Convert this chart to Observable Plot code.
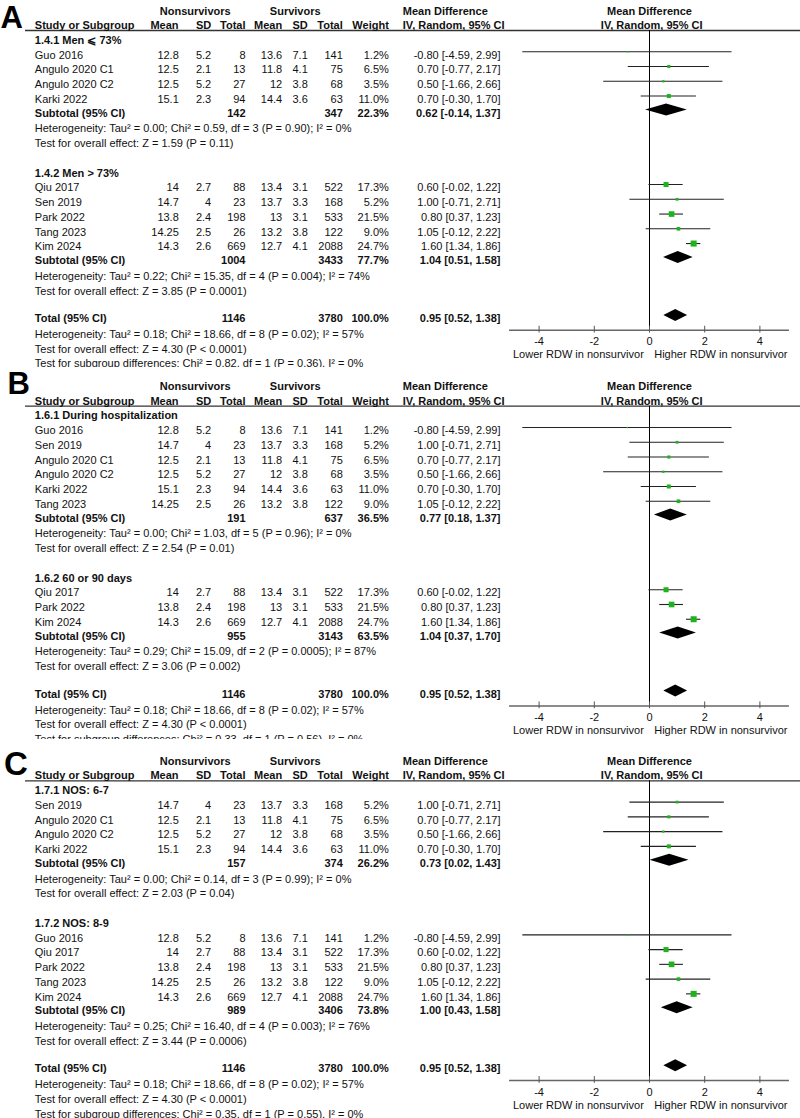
<!DOCTYPE html>
<html><head><meta charset="utf-8">
<script src="https://cdn.jsdelivr.net/npm/d3@7"></script>
<script src="https://cdn.jsdelivr.net/npm/@observablehq/plot@0.6"></script>
<style>
html,body{margin:0;padding:0;background:#fff;}
#fig{width:800px;}
.panel{display:flex;flex-direction:row;width:800px;overflow:hidden;}
.panel svg{display:block;flex:none;overflow:hidden;background:transparent;}
</style></head><body><div id="fig"></div>
<script>
// ---------- data ----------
const studyNames = ["Guo 2016","Qiu 2017","Sen 2019","Angulo 2020 C1","Angulo 2020 C2","Karki 2022","Park 2022","Tang 2023","Kim 2024"];
const nonMean  = [12.8, 14, 14.7, 12.5, 12.5, 15.1, 13.8, 14.25, 14.3];
const nonSD    = [5.2, 2.7, 4, 2.1, 5.2, 2.3, 2.4, 2.5, 2.6];
const nonTotal = [8, 88, 23, 13, 27, 94, 198, 26, 669];
const surMean  = [13.6, 13.4, 13.7, 11.8, 12, 14.4, 13, 13.2, 12.7];
const surSD    = [7.1, 3.1, 3.3, 4.1, 3.8, 3.6, 3.1, 3.8, 4.1];
const surTotal = [141, 522, 168, 75, 68, 63, 533, 122, 2088];
const weight   = [1.2, 17.3, 5.2, 6.5, 3.5, 11.0, 21.5, 9.0, 24.7];
const md       = [-0.80, 0.60, 1.00, 0.70, 0.50, 0.70, 0.80, 1.05, 1.60];
const ciLow    = [-4.59, -0.02, -0.71, -0.77, -1.66, -0.30, 0.37, -0.12, 1.34];
const ciHigh   = [2.99, 1.22, 2.71, 2.17, 2.66, 1.70, 1.23, 2.22, 1.86];

const panelLetters = ["A","B","C"];
const subgroupLabels = [
  ["1.4.1 Men \u2A7D 73%", "1.4.2 Men > 73%"],
  ["1.6.1 During hospitalization", "1.6.2 60 or 90 days"],
  ["1.7.1 NOS: 6-7", "1.7.2 NOS: 8-9"]
];
const subgroupStudies = [
  [["Guo 2016","Angulo 2020 C1","Angulo 2020 C2","Karki 2022"], ["Qiu 2017","Sen 2019","Park 2022","Tang 2023","Kim 2024"]],
  [["Guo 2016","Sen 2019","Angulo 2020 C1","Angulo 2020 C2","Karki 2022","Tang 2023"], ["Qiu 2017","Park 2022","Kim 2024"]],
  [["Sen 2019","Angulo 2020 C1","Angulo 2020 C2","Karki 2022"], ["Guo 2016","Qiu 2017","Park 2022","Tang 2023","Kim 2024"]]
];
const subNonTotal = [[142, 1004], [191, 955], [157, 989]];
const subSurTotal = [[347, 3433], [637, 3143], [374, 3406]];
const subWeight   = [[22.3, 77.7], [36.5, 63.5], [26.2, 73.8]];
const subMD       = [[0.62, 1.04], [0.77, 1.04], [0.73, 1.00]];
const subLow      = [[-0.14, 0.51], [0.18, 0.37], [0.02, 0.43]];
const subHigh     = [[1.37, 1.58], [1.37, 1.70], [1.43, 1.58]];
const subHet = [
  ["Heterogeneity: Tau\u00B2 = 0.00; Chi\u00B2 = 0.59, df = 3 (P = 0.90); I\u00B2 = 0%",
   "Heterogeneity: Tau\u00B2 = 0.22; Chi\u00B2 = 15.35, df = 4 (P = 0.004); I\u00B2 = 74%"],
  ["Heterogeneity: Tau\u00B2 = 0.00; Chi\u00B2 = 1.03, df = 5 (P = 0.96); I\u00B2 = 0%",
   "Heterogeneity: Tau\u00B2 = 0.29; Chi\u00B2 = 15.09, df = 2 (P = 0.0005); I\u00B2 = 87%"],
  ["Heterogeneity: Tau\u00B2 = 0.00; Chi\u00B2 = 0.14, df = 3 (P = 0.99); I\u00B2 = 0%",
   "Heterogeneity: Tau\u00B2 = 0.25; Chi\u00B2 = 16.40, df = 4 (P = 0.003); I\u00B2 = 76%"]
];
const subOverall = [
  ["Test for overall effect: Z = 1.59 (P = 0.11)", "Test for overall effect: Z = 3.85 (P = 0.0001)"],
  ["Test for overall effect: Z = 2.54 (P = 0.01)", "Test for overall effect: Z = 3.06 (P = 0.002)"],
  ["Test for overall effect: Z = 2.03 (P = 0.04)", "Test for overall effect: Z = 3.44 (P = 0.0006)"]
];
const subgroupDiff = [
  "Test for subgroup differences: Chi\u00B2 = 0.82, df = 1 (P = 0.36), I\u00B2 = 0%",
  "Test for subgroup differences: Chi\u00B2 = 0.33, df = 1 (P = 0.56), I\u00B2 = 0%",
  "Test for subgroup differences: Chi\u00B2 = 0.35, df = 1 (P = 0.55), I\u00B2 = 0%"
];
const totalNon = 1146, totalSur = 3780, totalWeight = 100.0;
const totalMD = 0.95, totalLow = 0.52, totalHigh = 1.38;
const totalHet = "Heterogeneity: Tau\u00B2 = 0.18; Chi\u00B2 = 18.66, df = 8 (P = 0.02); I\u00B2 = 57%";
const totalOverall = "Test for overall effect: Z = 4.30 (P < 0.0001)";

const headerGroups = ["Nonsurvivors", "Survivors", "Mean Difference"];
const headerCols = ["Study or Subgroup","Mean","SD","Total","Mean","SD","Total","Weight","IV, Random, 95% CI"];
const forestHeader = ["Mean Difference", "IV, Random, 95% CI"];
const axisTicks = [-4, -2, 0, 2, 4];
const axisTickLabels = ["-4", "-2", "0", "2", "4"];
const axisLabels = ["Lower RDW in nonsurvivor", "Higher RDW in nonsurvivor"];

// ---------- layout (positions / styles) ----------
const ROW = 14.75;
const FONT = "'Liberation Sans', Arial, Helvetica, sans-serif";
const TABLE_W = 508;             // table part width; forest part fills the rest
const FOREST_W = 800 - TABLE_W;
const panelLayout = [
  {height: 367, top: 25,   letterX: 0,   letterY: 27, letterSize: 31},
  {height: 372, top: 33.7, letterX: 7,   letterY: 26, letterSize: 31},
  {height: 379, top: 36.3, letterX: 3.5, letterY: 35, letterSize: 33}
];
const colLayout = [
  {key: "study", x: 34.3,  anchor: "start"},
  {key: "nm",    x: 178.3, anchor: "end"},
  {key: "nsd",   x: 210.7, anchor: "end"},
  {key: "nt",    x: 245,   anchor: "end"},
  {key: "sm",    x: 281.7, anchor: "end"},
  {key: "ssd",   x: 307.3, anchor: "end"},
  {key: "st",    x: 342.3, anchor: "end"},
  {key: "w",     x: 388.3, anchor: "end"},
  {key: "ci",    x: 500,   anchor: "end"}
];
const groupHeaderLayout = [
  {x: 194.7, anchor: "middle"},
  {x: 294.7, anchor: "middle"},
  {x: 402.3, anchor: "start"}
];
const headerColLayout = [
  {x: 34.3, a: "start"}, {x: 178, a: "end"}, {x: 210.7, a: "end"}, {x: 245, a: "end"},
  {x: 281.7, a: "end"}, {x: 307.3, a: "end"}, {x: 342.3, a: "end"}, {x: 388.3, a: "end"},
  {x: 402.3, a: "start"}
];
const ruleK = 5 / ROW;
const axisK = 20.66;
const markDy = -3.2;
const diamondHalf = 6 / ROW;
const green = "#1db31d";

// ---------- build rows ----------
const f2 = v => v.toFixed(2);
const ciText = (m, l, h) => `${f2(m)} [${f2(l)}, ${f2(h)}]`;

function buildPanel(p) {
  const rows = [], studies = [], diamonds = [];
  let k = 1;
  for (let g = 0; g < 2; g++) {
    rows.push({k, bold: true, study: subgroupLabels[p][g]});
    k += 1;
    for (const name of subgroupStudies[p][g]) {
      const i = studyNames.indexOf(name);
      rows.push({k, bold: false, study: name,
        nm: String(nonMean[i]), nsd: String(nonSD[i]), nt: String(nonTotal[i]),
        sm: String(surMean[i]), ssd: String(surSD[i]), st: String(surTotal[i]),
        w: weight[i].toFixed(1) + "%", ci: ciText(md[i], ciLow[i], ciHigh[i])});
      studies.push({k, md: md[i], lo: ciLow[i], hi: ciHigh[i], w: weight[i]});
      k += 1;
    }
    const ks = k - 0.06;
    rows.push({k: ks, bold: true, study: "Subtotal (95% CI)",
      nt: String(subNonTotal[p][g]), st: String(subSurTotal[p][g]),
      w: subWeight[p][g].toFixed(1) + "%", ci: ciText(subMD[p][g], subLow[p][g], subHigh[p][g])});
    diamonds.push({id: "s" + g, k: ks, md: subMD[p][g], lo: subLow[p][g], hi: subHigh[p][g]});
    k += 1;
    rows.push({k, bold: false, study: subHet[p][g]});
    k += 1;
    rows.push({k, bold: false, study: subOverall[p][g]});
    k += (g === 0 ? 2 : 1.87);
  }
  rows.push({k, bold: true, study: "Total (95% CI)", nt: String(totalNon), st: String(totalSur),
    w: totalWeight.toFixed(1) + "%", ci: ciText(totalMD, totalLow, totalHigh)});
  diamonds.push({id: "t", k, md: totalMD, lo: totalLow, hi: totalHigh});
  k += 1.07;
  rows.push({k, bold: false, study: totalHet});
  k += 1;
  rows.push({k, bold: false, study: totalOverall});
  k += 1;
  rows.push({k, bold: false, study: subgroupDiff[p]});
  return {rows, studies, diamonds};
}

const fig = document.getElementById("fig");

panelLetters.forEach((letter, p) => {
  const L = panelLayout[p];
  const {rows, studies, diamonds} = buildPanel(p);
  const yScale = {domain: [0, 1], range: [L.top, L.top + ROW], axis: null};

  // ---- table (left part) ----
  const tableMarks = [
    Plot.ruleY([ruleK], {x1: 25, x2: TABLE_W, stroke: "#333", strokeWidth: 1.3}),
    Plot.text([letter], {frameAnchor: "top-left", dx: L.letterX, dy: L.letterY, lineAnchor: "bottom",
      textAnchor: "start", fontSize: L.letterSize, fontWeight: "bold", fill: "#000", text: d => d})
  ];
  headerGroups.forEach((h, j) => {
    tableMarks.push(Plot.text([h], {x: groupHeaderLayout[j].x, y: -0.98, text: d => d,
      textAnchor: groupHeaderLayout[j].anchor, fontWeight: "bold"}));
  });
  headerCols.forEach((h, j) => {
    tableMarks.push(Plot.text([h], {x: headerColLayout[j].x, y: 0, text: d => d,
      textAnchor: headerColLayout[j].a, fontWeight: "bold"}));
  });
  for (const c of colLayout) {
    for (const bold of [false, true]) {
      const sub = rows.filter(r => r[c.key] != null && !!r.bold === bold);
      if (!sub.length) continue;
      tableMarks.push(Plot.text(sub, {x: c.x, y: "k", text: c.key, textAnchor: c.anchor,
        fontWeight: bold ? "bold" : "normal"}));
    }
  }
  const table = Plot.plot({
    width: TABLE_W, height: L.height, margin: 0,
    style: {font: `11px ${FONT}`, color: "#111", background: "transparent", overflow: "hidden", maxWidth: "none"},
    x: {type: "identity"},
    y: yScale,
    marks: tableMarks
  });

  // ---- forest (right part) ----
  const dpts = diamonds.flatMap(d => [
    {id: d.id, x: d.lo, y1: d.k, y2: d.k},
    {id: d.id, x: d.md, y1: d.k - diamondHalf, y2: d.k + diamondHalf},
    {id: d.id, x: d.hi, y1: d.k, y2: d.k}
  ]);
  const forest = Plot.plot({
    width: FOREST_W, height: L.height, margin: 0,
    style: {font: `11px ${FONT}`, color: "#111", background: "transparent", overflow: "hidden", maxWidth: "none"},
    x: {domain: [-5, 5], range: [511 - TABLE_W, 787 - TABLE_W], axis: null},
    y: yScale,
    r: {type: "sqrt", domain: [0, 25], range: [0, 3.42]},
    marks: [
      Plot.ruleY([ruleK], {stroke: "#333", strokeWidth: 1.3}),
      Plot.text([forestHeader[0]], {x: 0, y: -0.98, text: d => d, fontWeight: "bold"}),
      Plot.text([forestHeader[1]], {x: 0.08, y: 0, text: d => d, fontWeight: "bold"}),
      Plot.ruleX([0], {y1: ruleK, y2: axisK, stroke: "#000", strokeWidth: 1}),
      Plot.ruleY(studies, {y: "k", x1: "lo", x2: "hi", stroke: "#222", strokeWidth: 1.1, dy: markDy}),
      Plot.dot(studies, {x: "md", y: "k", r: "w", symbol: "square", fill: green, dy: markDy}),
      Plot.areaY(dpts, {x: "x", y1: "y1", y2: "y2", z: "id", fill: "#000", dy: markDy, curve: "linear"}),
      Plot.ruleY([axisK], {x1: -5.07, x2: 5.07, stroke: "#666", strokeWidth: 1.5}),
      Plot.ruleX(axisTicks, {x: d => d, y1: axisK - 0.27, y2: axisK + 0.19, stroke: "#555", strokeWidth: 1}),
      Plot.text(axisTicks, {x: d => d, y: axisK, dy: 11.5, text: (d, i) => axisTickLabels[i]}),
      Plot.text([axisLabels[0]], {x: -5, y: axisK, dx: 1.5, dy: 24.5, textAnchor: "start", text: d => d}),
      Plot.text([axisLabels[1]], {x: 5, y: axisK, dy: 24.5, textAnchor: "end", text: d => d})
    ]
  });

  const div = document.createElement("div");
  div.className = "panel";
  div.style.height = L.height + "px";
  div.appendChild(table);
  div.appendChild(forest);
  fig.appendChild(div);
});
</script></body></html>
